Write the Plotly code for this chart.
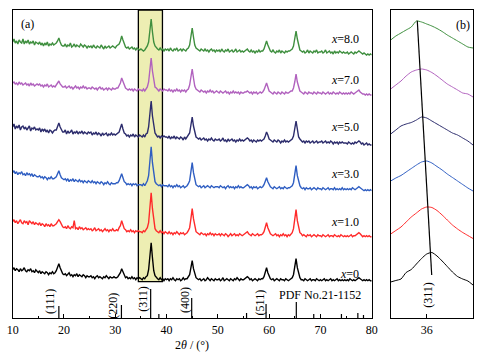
import numpy as np
import plotly.graph_objects as go

# ---------------- data ----------------
TWO_THETA = np.round(np.arange(10.0, 80.0 + 1e-9, 0.25), 2)  # measurement grid, deg

SAMPLE_LABELS = ["x=0", "x=1.0", "x=3.0", "x=5.0", "x=7.0", "x=8.0"]

I_X0 = [11,13,10,12,11,9,12,10,11,13,10,9,11,10,12,9,10,8,11,9,
        8,10,7,9,8,7,9,8,6,8,7,9,7,8,10,13,17,13,9,7,
        6,7,5,7,8,5,6,4,6,5,7,4,6,5,4,6,5,3,5,4,
        4,5,3,4,2,4,5,3,4,3,2,4,3,5,3,2,4,3,3,4,
        3,3,4,6,8,12,9,5,3,4,2,3,2,4,2,3,1,3,2,3,
        2,1,3,2,4,5,11,24,38,23,10,5,3,2,1,3,1,2,0,2,
        1,2,0,2,1,3,1,0,2,1,2,0,1,3,1,2,2,4,6,13,
        20,12,6,3,2,1,2,0,1,2,0,1,3,1,0,2,1,0,2,1,
        1,2,0,1,3,0,1,2,1,0,2,1,0,2,1,3,1,0,2,1,
        1,2,3,4,3,1,2,0,1,2,1,0,2,1,2,2,4,8,13,8,
        4,2,1,2,0,1,2,1,0,2,1,1,0,2,1,0,1,2,3,6,
        13,22,13,6,3,1,1,0,2,1,0,1,2,0,1,1,0,2,1,0,
        1,0,1,2,0,1,0,1,2,0,1,0,1,2,0,1,0,1,0,1,
        0,1,0,2,1,0,1,0,1,2,3,2,1,0,1,0,1,0,1,0,
        0]

I_X1 = [15,17,14,16,13,15,17,14,13,16,14,15,12,16,14,13,15,12,14,13,
        12,14,11,13,12,10,13,11,12,10,13,11,11,12,13,15,17,15,12,10,
        9,10,8,11,9,8,10,9,16,8,9,7,10,8,9,7,8,9,7,8,
        7,8,6,7,9,6,7,8,6,7,5,7,8,6,7,5,7,6,8,6,
        6,7,6,9,11,16,12,8,7,5,6,5,7,5,6,4,6,5,6,5,
        5,4,6,5,7,9,14,29,44,28,15,8,6,5,4,6,4,5,3,5,
        4,3,5,3,4,2,4,3,5,3,2,4,3,4,2,3,4,6,9,18,
        28,18,9,5,4,3,2,4,3,2,3,1,3,2,4,2,3,1,3,2,
        2,3,1,3,2,1,3,2,0,2,3,1,2,3,1,2,1,3,2,1,
        2,3,4,5,3,2,1,3,2,1,2,3,1,2,2,3,5,9,14,9,
        5,3,2,1,2,3,1,2,0,2,1,3,1,2,0,2,1,3,4,8,
        17,27,16,8,4,3,1,2,1,0,2,1,2,0,1,2,1,0,2,1,
        1,0,2,1,0,1,2,0,1,1,0,2,1,0,1,0,2,1,0,1,
        0,1,0,1,2,0,1,1,2,3,4,3,1,0,1,0,1,0,1,0,
        0]

I_X3 = [18,20,17,19,16,18,17,19,16,17,15,18,16,17,15,17,14,16,15,14,
        14,15,13,14,12,14,13,11,13,12,14,12,12,13,14,17,20,16,13,12,
        11,12,10,12,9,11,10,12,9,11,10,9,11,9,10,8,10,9,8,10,
        9,8,10,8,9,7,9,8,7,9,8,6,8,7,9,7,6,8,7,7,
        7,8,8,10,13,17,13,9,8,6,7,6,7,5,7,6,7,5,6,6,
        6,5,7,5,8,10,15,29,44,28,15,9,7,6,5,6,4,6,5,5,
        5,4,6,4,5,3,5,4,6,4,5,3,4,5,3,4,5,7,10,19,
        28,18,10,6,5,4,5,3,4,5,3,4,5,4,3,5,4,3,4,4,
        4,3,5,4,3,4,2,4,5,3,4,3,4,2,4,3,5,3,4,3,
        3,4,5,6,5,3,4,2,4,3,4,2,3,4,3,4,6,9,13,9,
        6,4,3,2,4,3,2,3,4,2,3,2,4,3,2,3,3,4,5,8,
        16,25,15,8,5,3,2,3,1,3,2,2,3,1,2,3,2,1,3,2,
        2,1,3,2,1,2,3,1,2,2,1,3,1,2,1,2,1,3,1,2,
        1,2,1,2,1,3,2,1,2,3,4,3,2,1,0,1,0,1,0,1,
        0]

I_X5 = [18,21,16,19,17,20,15,18,19,16,18,15,17,19,14,17,16,18,15,16,
        15,17,13,16,14,16,13,15,12,15,14,12,14,15,15,18,22,18,15,13,
        13,15,11,14,12,13,15,11,13,12,14,11,13,12,14,11,13,12,11,13,
        12,13,10,12,11,13,10,12,11,9,12,10,11,12,9,11,10,12,10,11,
        10,11,12,13,17,21,16,12,11,9,10,8,10,9,11,8,10,9,8,10,
        9,8,10,8,11,12,18,30,44,29,17,12,10,8,9,7,9,8,9,8,
        8,7,9,6,8,7,9,6,8,7,6,8,7,5,8,6,8,9,12,20,
        28,19,12,8,7,6,7,5,6,7,5,6,4,6,5,7,5,4,6,5,
        5,6,4,5,7,4,5,3,6,4,5,6,4,5,3,5,4,6,4,5,
        4,5,6,7,6,4,5,3,5,4,3,5,4,5,4,5,6,9,13,10,
        6,5,4,3,5,4,3,5,4,2,4,3,5,3,4,3,4,5,6,9,
        16,24,16,8,6,4,3,4,2,4,3,4,2,3,4,2,3,4,2,3,
        3,4,2,3,4,2,3,2,4,3,1,3,2,3,1,3,2,3,2,2,
        2,1,3,2,1,2,1,3,2,3,4,3,1,2,0,1,2,0,1,0,
        0]

I_X7 = [12,13,11,12,10,13,11,12,10,11,12,10,11,9,12,10,11,9,10,11,
        10,11,9,10,8,10,9,11,8,9,10,8,9,8,10,12,14,11,9,8,
        8,9,7,8,9,7,8,6,8,9,7,8,6,8,7,9,7,8,6,7,
        7,6,8,7,6,7,5,7,8,6,7,5,6,7,5,7,6,5,7,6,
        6,7,7,9,12,17,13,9,7,6,5,6,5,6,4,6,5,4,6,5,
        5,4,6,4,6,8,13,24,37,24,13,8,7,5,4,6,5,4,6,5,
        5,4,6,4,5,3,5,4,6,4,5,3,5,4,5,3,5,6,10,18,
        26,17,9,6,5,4,3,5,4,3,4,2,4,3,5,3,4,2,3,4,
        3,2,4,3,2,3,4,2,3,1,3,2,4,2,3,2,3,1,3,2,
        2,3,3,4,3,2,3,1,3,2,3,1,2,3,2,3,5,8,12,8,
        4,3,2,1,3,2,1,3,2,1,3,2,1,3,2,2,3,4,4,7,
        13,21,13,7,4,3,2,1,3,2,1,3,2,2,1,3,2,1,3,2,
        2,1,3,2,1,2,3,1,2,1,3,2,1,2,1,3,2,1,2,1,
        2,1,2,1,3,2,1,2,3,4,5,3,2,1,1,0,1,0,1,0,
        0]

I_X8 = [13,16,12,14,11,15,13,12,16,11,14,12,15,11,13,12,14,10,13,12,
        11,13,10,12,9,12,10,13,9,11,10,12,10,11,12,14,17,13,10,9,
        9,11,8,10,9,12,8,9,11,8,10,9,8,11,9,8,10,9,7,9,
        8,9,7,10,8,7,9,8,7,10,8,6,9,7,8,9,7,8,9,8,
        7,9,10,11,14,19,15,11,8,7,8,6,7,8,6,7,5,7,6,5,
        6,5,4,5,7,9,13,24,36,23,13,9,7,6,5,7,5,6,4,6,
        5,6,4,7,5,4,6,5,7,4,5,6,4,6,5,4,6,7,10,18,
        27,18,10,7,6,5,4,6,5,4,6,4,5,3,5,6,4,5,3,5,
        4,5,3,6,4,3,5,4,6,3,4,5,3,4,6,3,4,5,3,4,
        3,4,5,6,4,3,5,3,4,2,4,3,5,3,4,4,6,10,14,10,
        6,4,3,5,3,2,4,3,5,2,4,3,2,4,3,4,4,5,6,9,
        16,24,16,9,5,4,3,4,2,3,5,2,4,3,2,4,3,5,2,3,
        3,4,2,3,5,2,3,4,2,3,1,4,2,3,2,4,3,2,3,2,
        2,3,1,2,3,2,1,3,2,3,4,3,2,1,2,1,0,1,0,1,
        0]

# Standard card PDF No.21-1152 (stick pattern)
PDF_POS = [19.0, 31.2, 36.9, 38.5, 44.9, 55.6, 59.4, 65.3, 68.7, 74.1, 77.3, 78.4]
PDF_INT = [12, 13, 29, 4, 20, 5, 14, 16, 4, 4, 5, 3]
HKL_LABELS = ["(111)", "(220)", "(311)", "(400)", "(511)"]

# panel (b): enlarged (311) region
B_THETA = [35.3, 35.4, 35.5, 35.6, 35.7, 35.8, 35.9, 36.0, 36.1,
           36.2, 36.3, 36.4, 36.5, 36.6, 36.7, 36.8, 36.9]
B_X0 = [3, 4.5, 6, 12.5, 15.5, 21, 26.5, 31, 32.5, 29, 24, 18.5, 13, 8.5, 6, 4, 0]
B_X1 = [4.5, 8, 11.5, 16.5, 21.5, 25.5, 29.5, 31.5, 31, 28, 23.5, 18.5, 13.5, 9.5, 6, 3, 0]
B_X3 = [10, 13, 15.5, 19, 22.5, 26, 29, 30, 28, 24.5, 21, 17, 13.5, 10, 6.5, 3, 0]
B_X5 = [11, 15, 19, 21, 22.5, 25, 28, 27, 24, 21, 18, 15, 12, 10, 7, 4, 0]
B_X7 = [8, 12, 16, 21, 25, 27, 28, 27, 24.5, 21, 17, 13, 10, 7, 4, 3, 0]
B_X8 = [8, 12, 15, 18, 21, 27, 26, 24, 22, 19.5, 16.5, 13, 10, 7, 4, 1, 0]
B_GUIDE_THETA = [35.817, 36.097]
B_GUIDE_Y = [297.3, 43.0]

# ---------------- style / layout constants ----------------
COLORS = ["#000000", "#FF2A2A", "#2F5EC2", "#2C2C6C", "#B162BE", "#3F8F3F"]
OFFSETS_A = [37.3, 81.3, 127.3, 173.0, 223.0, 263.0]
OFFSETS_B = [33.0, 79.5, 127.0, 173.0, 221.0, 270.0]
LABEL_Y = [44.0, 96.3, 144.0, 191.3, 238.0, 279.0]
HKL_X = [17.27, 29.5, 35.35, 43.6, 58.2]
HKL_Y = [17.0, 12.0, 19.0, 18.0, 15.5]
FONT = "Liberation Serif"
W, H = 481, 355

series_a = [I_X0, I_X1, I_X3, I_X5, I_X7, I_X8]
series_b = [B_X0, B_X1, B_X3, B_X5, B_X7, B_X8]

fig = go.Figure()

# highlight box around (311)
fig.add_shape(type="rect", xref="x", yref="y", x0=34.5, x1=39.2, y0=36.3, y1=308,
              fillcolor="#EDEEB3", line=dict(color="black", width=1.3), layer="below")

for ys, off, c in zip(series_a, OFFSETS_A, COLORS):
    fig.add_trace(go.Scatter(x=TWO_THETA, y=np.array(ys, dtype=float) + off,
                             mode="lines", line=dict(color=c, width=1.4),
                             xaxis="x", yaxis="y", showlegend=False, hoverinfo="skip"))

# PDF sticks
sx, sy = [], []
for p, h in zip(PDF_POS, PDF_INT):
    sx += [p, p, None]
    sy += [0, h, None]
fig.add_trace(go.Scatter(x=sx, y=sy, mode="lines", line=dict(color="black", width=1.2),
                         xaxis="x", yaxis="y", showlegend=False, hoverinfo="skip"))

for ys, off, c in zip(series_b, OFFSETS_B, COLORS):
    fig.add_trace(go.Scatter(x=B_THETA, y=np.array(ys, dtype=float) + off,
                             mode="lines", line=dict(color=c, width=1, shape="spline", smoothing=0.6),
                             xaxis="x2", yaxis="y2", showlegend=False, hoverinfo="skip"))
fig.add_trace(go.Scatter(x=B_GUIDE_THETA, y=B_GUIDE_Y, mode="lines",
                         line=dict(color="black", width=1.2),
                         xaxis="x2", yaxis="y2", showlegend=False, hoverinfo="skip"))

ann = []
tf = dict(family=FONT, size=12, color="black")
for lab, ly in zip(SAMPLE_LABELS, LABEL_Y):
    ann.append(dict(x=77.9, y=ly, xref="x", yref="y", xanchor="right", yanchor="middle",
                    text="<i>x</i>=" + lab.split("=")[1], showarrow=False, font=tf))
for lab, hx, hy in zip(HKL_LABELS, HKL_X, HKL_Y):
    ann.append(dict(x=hx, y=hy, xref="x", yref="y", xanchor="center", yanchor="middle",
                    text=lab, textangle=-90, showarrow=False, font=tf))
ann.append(dict(x=69.96, y=23, xref="x", yref="y", xanchor="center", yanchor="middle",
                text="PDF No.21-1152", showarrow=False, font=tf))
ann.append(dict(x=36.02, y=23, xref="x2", yref="y2", xanchor="center", yanchor="middle",
                text="(311)", textangle=-90, showarrow=False, font=tf))
ann.append(dict(x=27 / W, y=1 - 24.3 / H, xref="paper", yref="paper", xanchor="center",
                yanchor="middle", text="(a)", showarrow=False, font=tf))
ann.append(dict(x=462.5 / W, y=1 - 25 / H, xref="paper", yref="paper", xanchor="center",
                yanchor="middle", text="(b)", showarrow=False, font=tf))
ann.append(dict(x=192 / W, y=1 - 345 / H, xref="paper", yref="paper", xanchor="center",
                yanchor="middle", text="2<i>θ</i> / (°)", showarrow=False, font=tf))

ydom = [1 - 318 / H, 1 - 10 / H]
axis_common = dict(showline=True, linecolor="black", linewidth=1.2, mirror=True,
                   showgrid=False, zeroline=False, ticks="inside", tickcolor="black",
                   tickfont=tf)
fig.update_layout(
    width=W, height=H, margin=dict(l=0, r=0, t=0, b=0, autoexpand=False),
    paper_bgcolor="white", plot_bgcolor="white",
    xaxis=dict(domain=[12.7 / W, 371.7 / W], range=[10, 80], tickmode="array",
               tickvals=[10, 20, 30, 40, 50, 60, 70, 80], ticklen=4, tickwidth=1,
               minor=dict(tickvals=[15, 25, 35, 45, 55, 65, 75], ticklen=2,
                          ticks="inside", tickcolor="black"),
               anchor="y", **axis_common),
    yaxis=dict(domain=ydom, range=[0, 308], showticklabels=False, anchor="x",
               **{**axis_common, "ticks": ""}),
    xaxis2=dict(domain=[390.7 / W, 473 / W], range=[35.3, 36.9], tickmode="array",
                tickvals=[36], ticklen=4, tickwidth=1, anchor="y2", **axis_common),
    yaxis2=dict(domain=ydom, range=[0, 308], showticklabels=False, anchor="x2",
                **{**axis_common, "ticks": ""}),
    annotations=ann,
)

fig.write_html("out.html", config={"displayModeBar": False},
               post_script="document.body.style.margin='0px';document.body.style.padding='0px';")
